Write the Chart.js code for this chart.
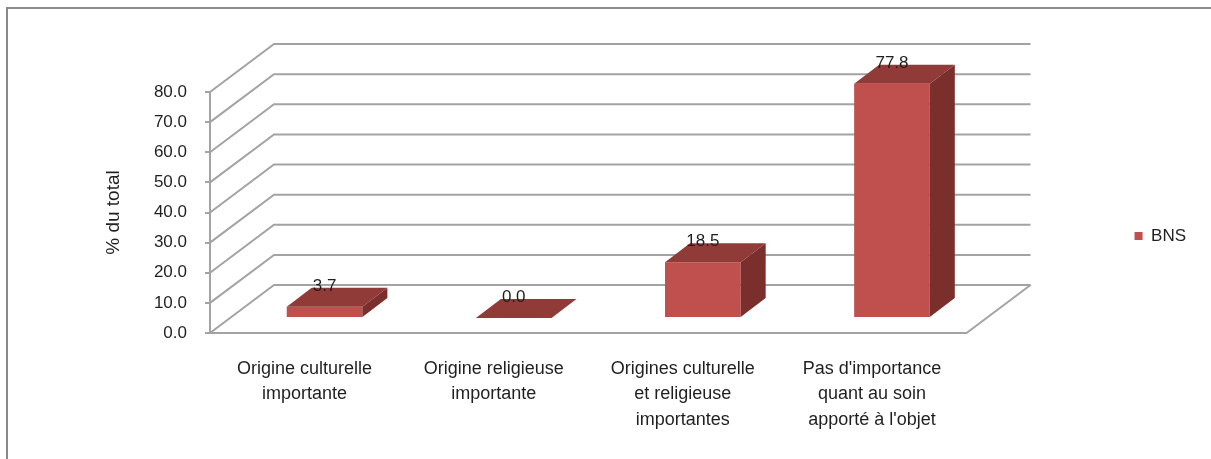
<!DOCTYPE html>
<html lang="fr">
<head>
<meta charset="utf-8">
<title>BNS</title>
<script src="https://cdn.jsdelivr.net/npm/chart.js@4.4.1/dist/chart.umd.min.js"></script>
<style>
  html, body { margin: 0; padding: 0; background: #fff; overflow: hidden; }
  #wrap { position: relative; width: 1211px; height: 459px; overflow: hidden; }
  #frame {
    position: absolute; left: 6px; top: 7px; right: -10px; bottom: -10px;
    border-left: 2px solid #8a8a8a; border-top: 2px solid #8a8a8a;
    pointer-events: none;
  }
</style>
</head>
<body>
<div id="wrap">
  <canvas id="chart" width="1211" height="459"></canvas>
  <div id="frame"></div>
</div>
<script>
const categories = [
    ["Origine culturelle", "importante"],
    ["Origine religieuse", "importante"],
    ["Origines culturelle", "et religieuse", "importantes"],
    ["Pas d'importance", "quant au soin", "apporté à l'objet"],
];
const bnsValues = [3.7, 0.0, 18.5, 77.8];
const yTicks = [0, 10, 20, 30, 40, 50, 60, 70, 80];

const FONT = "'Liberation Sans', Arial, sans-serif";
const TEXT = "#1f1f1f";
const GRID = "#a3a3a3";
const BAR_FRONT = "#c0504d";
const BAR_TOP = "#913b39";
const BAR_SIDE = "#7a2f2d";

// oblique offsets: back wall, front of the bars, bar depth
const WALL_DX = 64, WALL_DY = -48;
const BAR_DX = 20, BAR_DY = -15;
const SIDE_DX = 25, SIDE_DY = -19;

// draws the 3D walls behind the bars, then pushes the bars into the box
// and gives them a top, a side and a value label
const box3d = {
    id: "box3d",
    beforeDatasetsDraw(chart) {
        const { ctx, chartArea: { left, right }, scales: { y } } = chart;
        ctx.save();
        ctx.strokeStyle = GRID;
        ctx.lineWidth = 2;
        y.ticks.forEach(t => {
            const py = y.getPixelForValue(t.value);
            ctx.beginPath();
            ctx.moveTo(left, py);
            ctx.lineTo(left + WALL_DX, py + WALL_DY);
            ctx.lineTo(right + WALL_DX, py + WALL_DY);
            ctx.stroke();
        });
        const y0 = y.getPixelForValue(0);
        ctx.beginPath();
        ctx.moveTo(right, y0);
        ctx.lineTo(right + WALL_DX, y0 + WALL_DY);
        ctx.stroke();
        ctx.restore();

        ctx.save();
        ctx.translate(BAR_DX, BAR_DY);
    },
    afterDatasetsDraw(chart) {
        const { ctx } = chart;
        const values = chart.data.datasets[0].data;
        chart.getDatasetMeta(0).data.forEach((bar, i) => {
            const { x, y, base, width } = bar.getProps(["x", "y", "base", "width"], true);
            const x0 = x - width / 2, x1 = x + width / 2;

            ctx.fillStyle = BAR_TOP;
            ctx.beginPath();
            ctx.moveTo(x0, y);
            ctx.lineTo(x1, y);
            ctx.lineTo(x1 + SIDE_DX, y + SIDE_DY);
            ctx.lineTo(x0 + SIDE_DX, y + SIDE_DY);
            ctx.closePath();
            ctx.fill();

            ctx.fillStyle = BAR_SIDE;
            ctx.beginPath();
            ctx.moveTo(x1, y);
            ctx.lineTo(x1 + SIDE_DX, y + SIDE_DY);
            ctx.lineTo(x1 + SIDE_DX, base + SIDE_DY);
            ctx.lineTo(x1, base);
            ctx.closePath();
            ctx.fill();

            ctx.fillStyle = TEXT;
            ctx.font = "17px " + FONT;
            ctx.textAlign = "center";
            ctx.textBaseline = "alphabetic";
            ctx.fillText(values[i].toFixed(1), x, y - 16);
        });
        ctx.restore();
    },
};

new Chart(document.querySelector("#chart"), {
    type: "bar",
    plugins: [box3d],
    data: {
        labels: categories,
        datasets: [{
            label: "BNS",
            data: bnsValues,
            backgroundColor: BAR_FRONT,
            borderWidth: 0,
            categoryPercentage: 1,
            barPercentage: 0.4,
            clip: false,
        }],
    },
    options: {
        responsive: false,
        animation: false,
        layout: { padding: { left: 88, top: 33, right: 15, bottom: 20 } },
        plugins: {
            tooltip: { enabled: false },
            // empty title: keeps the plot below the frame's top margin
            title: {
                display: true,
                text: "",
                font: { size: 10, lineHeight: 1 },
                padding: { top: 0, bottom: 49 },
            },
            legend: {
                position: "right",
                labels: {
                    boxWidth: 8,
                    boxHeight: 8,
                    padding: 10,
                    color: TEXT,
                    font: { family: FONT, size: 17 },
                },
            },
        },
        scales: {
            x: {
                grid: { display: false, drawTicks: false },
                border: { display: true, color: GRID, width: 2 },
                ticks: {
                    autoSkip: false,
                    maxRotation: 0,
                    padding: 24,
                    color: TEXT,
                    font: { family: FONT, size: 18, lineHeight: 1.39 },
                },
                afterFit: s => { s.height = 106; },
            },
            y: {
                min: 0,
                max: 80,
                afterBuildTicks: s => { s.ticks = yTicks.map(v => ({ value: v })); },
                ticks: {
                    callback: v => v.toFixed(1),
                    padding: 18,
                    color: TEXT,
                    font: { family: FONT, size: 17 },
                },
                grid: { drawOnChartArea: false, drawTicks: true, tickLength: 5, color: GRID, lineWidth: 2 },
                border: { display: true, color: GRID, width: 2 },
                title: {
                    display: true,
                    text: "% du total",
                    color: TEXT,
                    font: { family: FONT, size: 19 },
                    padding: { top: 14, bottom: 0 },
                },
                afterFit: s => { s.width = 122; },
            },
            // room on the right for the depth of the box
            depth: {
                position: "right",
                min: 0,
                max: 1,
                ticks: { display: false },
                grid: { display: false },
                border: { display: false },
                afterFit: s => { s.width = 158; },
            },
        },
    },
});
</script>
</body>
</html>
